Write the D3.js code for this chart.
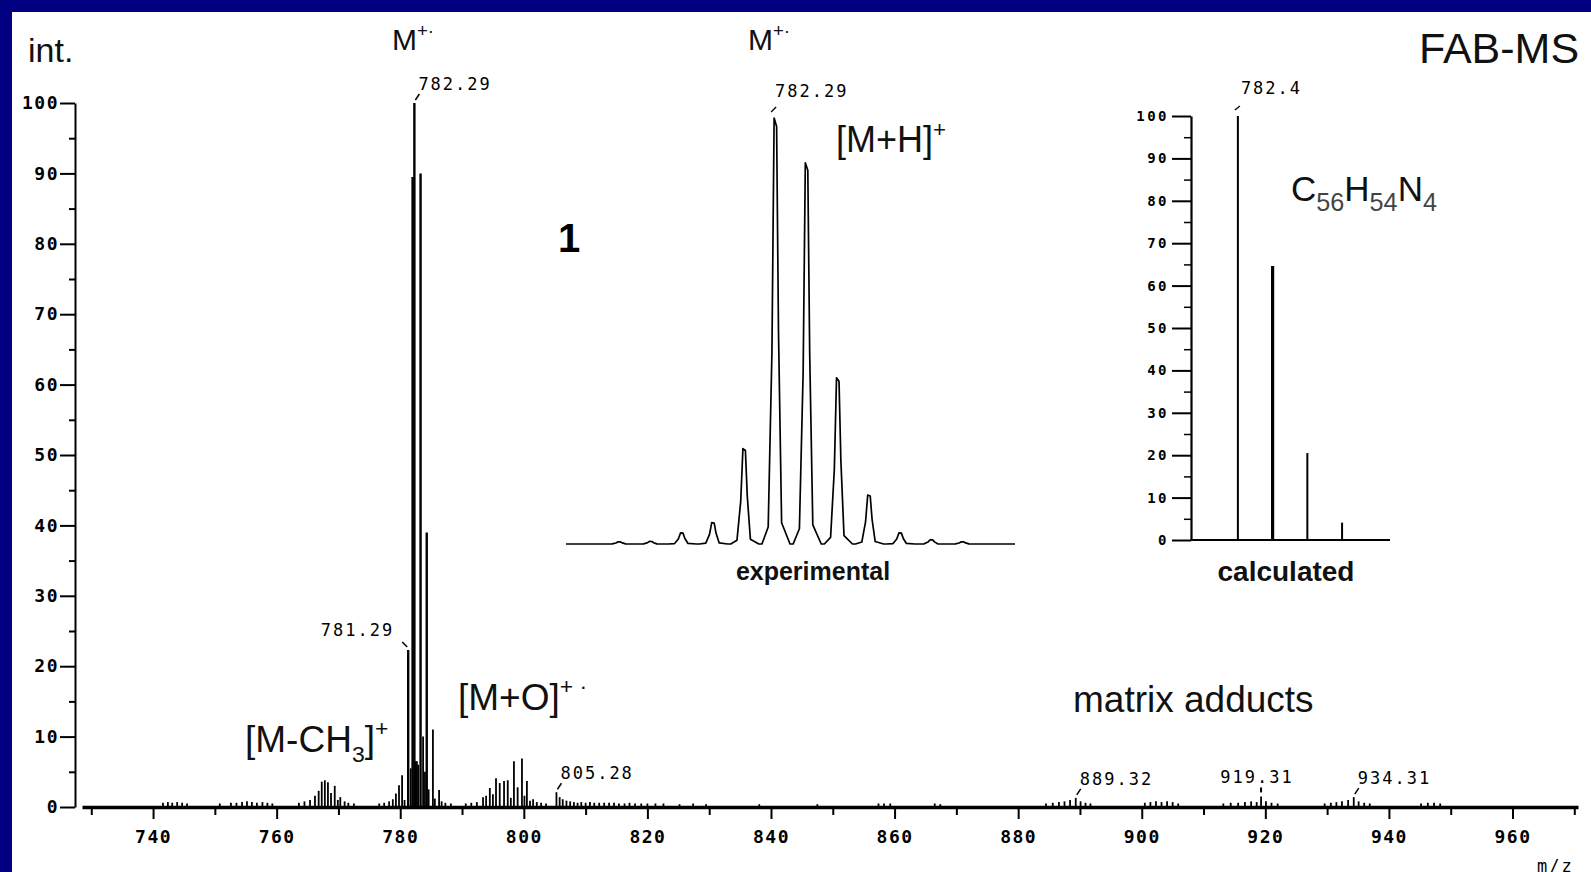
<!DOCTYPE html>
<html>
<head>
<meta charset="utf-8">
<script src="https://cdn.jsdelivr.net/npm/d3@7"></script>
<style>
  body { margin: 0; padding: 0; background: #000080; }
  #chart { width: 1591px; height: 872px; }
</style>
</head>
<body>
<div id="chart"></div>
<script>
// main FAB spectrum, [m/z, relative intensity]
const mainPeaks = [
  [741.6,0.6],[742.4,0.7],[743.1,0.6],[743.9,0.7],[744.7,0.6],[745.5,0.5],
  [750.8,0.5],[752.6,0.6],[753.5,0.6],[754.4,0.7],[755.2,0.8],[756.0,0.7],[756.8,0.6],[757.7,0.7],[758.5,0.6],[759.3,0.5],
  [763.6,0.6],[764.5,0.8],[765.4,1.0],[766.2,1.6],[766.8,2.3],[767.3,3.6],[767.8,3.8],[768.3,3.5],[768.8,2.0],[769.4,3.0],[769.9,1.0],[770.3,1.4],[771.0,0.8],[771.6,0.6],[772.5,0.5],
  [776.6,0.5],[777.4,0.6],[778.2,0.8],[778.8,1.1],[779.3,1.9],[779.8,3.1],[780.3,4.5],[780.7,1.0],
  [781.29,22.3],[781.7,5.5],[782.0,89.5],[782.29,100],[782.5,6.5],[782.7,6.5],[782.9,6.0],[783.29,90],[783.7,10],[784.0,5.0],[784.29,39],[784.6,2.5],[785.29,11],[785.6,1.2],[786.29,2.4],[786.7,0.8],[787.3,0.6],[788.2,0.5],
  [790.6,0.5],[791.5,0.6],[792.4,0.7],[793.4,1.4],[793.9,1.6],[794.5,2.7],[795.0,1.8],[795.5,4.1],[796.1,3.4],[796.8,3.7],[797.4,3.8],[797.9,1.3],[798.4,6.5],[799.0,2.8],[799.7,6.9],[800.1,1.6],[800.5,3.7],[801.0,0.9],[801.5,1.1],[802.1,0.7],[802.8,0.6],[803.6,0.5],
  [805.28,2.1],[805.8,1.4],[806.3,1.1],[806.9,0.9],[807.5,0.8],[808.1,0.7],[808.7,0.6],[809.3,0.7],[810.0,0.6],[810.7,0.7],[811.4,0.6],[812.2,0.6],[813.0,0.6],[813.8,0.6],[814.6,0.6],[815.4,0.5],[816.3,0.5],[817.1,0.6],[818.0,0.5],[819.0,0.5],[820.0,0.5],[821.3,0.5],[822.6,0.5],[825.2,0.4],[827.4,0.5],[829.5,0.4],
  [838.1,0.4],[847.5,0.4],[857.4,0.5],[858.3,0.5],[859.3,0.5],[866.5,0.5],[867.4,0.4],
  [884.5,0.5],[885.6,0.6],[886.6,0.7],[887.5,0.8],[888.4,1.0],[889.32,1.3],[890.1,0.8],[890.9,0.6],[891.7,0.5],
  [900.5,0.6],[901.4,0.7],[902.3,0.8],[903.2,0.7],[904.1,0.8],[905.0,0.7],[905.9,0.5],
  [913.2,0.5],[914.4,0.6],[915.6,0.6],[916.7,0.7],[917.7,0.8],[918.6,0.7],[919.31,1.5],[920.1,0.8],[921.0,0.6],[922.0,0.5],
  [929.6,0.5],[930.6,0.6],[931.5,0.7],[932.4,0.8],[933.4,1.0],[934.31,1.4],[935.1,0.8],[936.0,0.6],[936.9,0.5],
  [945.2,0.5],[946.3,0.6],[947.3,0.6],[948.3,0.5]
];
const mainXMajor = [740, 760, 780, 800, 820, 840, 860, 880, 900, 920, 940, 960];
const mainXMinor = [730, 750, 770, 790, 810, 830, 850, 870, 890, 910, 930, 950, 970];
const yMajor = [0, 10, 20, 30, 40, 50, 60, 70, 80, 90, 100];
const yMinor = [5, 15, 25, 35, 45, 55, 65, 75, 85, 95];

// labelled peaks in the main spectrum
const mainLabels = [
  { mz: 782.29, text: "782.29", side: "right" },
  { mz: 781.29, text: "781.29", side: "left" },
  { mz: 805.28, text: "805.28", side: "right" },
  { mz: 889.32, text: "889.32", side: "right" },
  { mz: 919.31, text: "919.31", side: "mid" },
  { mz: 934.31, text: "934.31", side: "right" }
];

// experimental isotope pattern (inset), [m/z, %]
const expPeaks = [[777,0.5],[778,0.6],[779,2.6],[780,5],[781,22.4],[782,100],[783,89.5],[784,39],[785,11.5],[786,2.6],[787,1],[788,0.5]];
// calculated isotope pattern C56H54N4, [m/z, %]
const calcPeaks = [[782.4,100],[783.4,64.6],[784.4,20.5],[785.4,4.1]];

const W = 1591, H = 872;
const mono = "DejaVu Sans Mono", sans = "Liberation Sans, Arial, sans-serif";

const svg = d3.select("#chart").append("svg")
    .attr("width", W)
    .attr("height", H);

svg.append("rect").attr("width", W).attr("height", H).attr("fill", "#000080");
svg.append("rect").attr("x", 12).attr("y", 12).attr("width", W - 12).attr("height", H - 12).attr("fill", "#fff");

// ---- main spectrum ----
const xMain = d3.scaleLinear().domain([728.5, 970.6]).range([82, 1578]);
const yMain = d3.scaleLinear().domain([0, 100]).range([807, 103]);

// y axis
const yAx = svg.append("g")
    .attr("transform", "translate(75,0)")
    .call(d3.axisLeft(yMain).tickValues(yMajor).tickSize(15).tickSizeOuter(0).tickPadding(1));
yAx.select(".domain").attr("stroke-width", 2);
yAx.selectAll(".tick line").attr("stroke-width", 2);
yAx.selectAll(".tick text")
    .attr("font-family", mono).attr("font-weight", "bold")
    .attr("font-size", 18).attr("letter-spacing", 1.5);

svg.append("g")
    .attr("transform", "translate(75,0)")
    .call(d3.axisLeft(yMain).tickValues(yMinor).tickSize(6).tickFormat(""))
    .call(g => g.select(".domain").remove())
    .selectAll(".tick line").attr("stroke-width", 2);

// x axis
const xAx = svg.append("g")
    .attr("transform", `translate(0,${yMain(0)})`)
    .call(d3.axisBottom(xMain).tickValues(mainXMajor).tickSize(12).tickSizeOuter(0).tickPadding(11));
xAx.select(".domain").attr("stroke-width", 3.5);
xAx.selectAll(".tick line").attr("stroke-width", 2);
xAx.selectAll(".tick text")
    .attr("font-family", mono).attr("font-weight", "bold")
    .attr("font-size", 18).attr("letter-spacing", 1.5);

svg.append("g")
    .attr("transform", `translate(0,${yMain(0)})`)
    .call(d3.axisBottom(xMain).tickValues(mainXMinor).tickSize(8).tickFormat(""))
    .call(g => g.select(".domain").remove())
    .selectAll(".tick line").attr("stroke-width", 2);

// sticks
svg.append("g").selectAll("line")
    .data(mainPeaks)
    .join("line")
    .attr("x1", d => xMain(d[0]))
    .attr("x2", d => xMain(d[0]))
    .attr("y1", yMain(0))
    .attr("y2", d => yMain(d[1]))
    .attr("stroke", "#000")
    .attr("stroke-width", d => d[1] > 20 ? 2.4 : 1.8);

// peak labels with little marker strokes
const labelFont = t => t.attr("font-family", mono).attr("font-size", 17).attr("letter-spacing", 2);
const intensityOf = mz => mainPeaks.find(p => p[0] === mz)[1];
mainLabels.forEach(l => {
    const px = xMain(l.mz), py = yMain(intensityOf(l.mz));
    const lab = svg.append("text").call(labelFont).text(l.text);
    if (l.side === "right") {
        svg.append("line").attr("x1", px + 1).attr("y1", py - 3).attr("x2", px + 5).attr("y2", py - 9)
            .attr("stroke", "#000").attr("stroke-width", 1.5);
        lab.attr("x", px + 4).attr("y", py - 13);
    } else if (l.side === "left") {
        svg.append("line").attr("x1", px - 6).attr("y1", py - 8).attr("x2", px - 1).attr("y2", py - 3)
            .attr("stroke", "#000").attr("stroke-width", 1.5);
        lab.attr("x", px - 14).attr("y", py - 14).attr("text-anchor", "end");
    } else {
        svg.append("line").attr("x1", px).attr("y1", py - 4).attr("x2", px).attr("y2", py - 9)
            .attr("stroke", "#000").attr("stroke-width", 2);
        lab.attr("x", px - 4).attr("y", py - 13).attr("text-anchor", "middle");
    }
});

// text with sub/superscripts
function rich(x, y, size, parts, subScale) {
    const t = svg.append("text").attr("x", x).attr("y", y)
        .attr("font-family", sans).attr("font-size", size).attr("fill", "#111");
    let shift = 0;
    parts.forEach(([s, k]) => {
        const dy = k === "sub" ? size * 0.28 : k === "sup" ? -size * 0.42 : 0;
        t.append("tspan")
            .attr("dy", dy - shift)
            .attr("font-size", k ? size * (subScale || 0.62) : size)
            .attr("fill", k === "sub" && subScale ? "#444" : null)
            .text(s);
        shift = dy;
    });
    return t;
}

rich(28, 62, 34, [["int."]]);
rich(392, 50, 30, [["M"], ["+·", "sup"]]);
rich(245, 752, 37, [["[M-CH"], ["3", "sub"], ["]"], ["+", "sup"]]);
rich(458, 710, 37, [["[M+O]"], ["+ ·", "sup"]]);
rich(1073, 712, 37, [["matrix adducts"]]);
rich(1419, 63, 43, [["FAB-MS"]]);
svg.append("text").attr("x", 1537).attr("y", 872)
    .attr("font-family", mono).attr("font-size", 17).attr("letter-spacing", 2)
    .text("m/z");
svg.append("text").attr("x", 558).attr("y", 252)
    .attr("font-family", sans).attr("font-weight", "bold").attr("font-size", 40)
    .text("1");

// ---- experimental inset ----
const xExp = d3.scaleLinear().domain([775.27, 789.66]).range([566, 1015]);
const yExp = d3.scaleLinear().domain([0, 100]).range([544, 118]);

// each isotope peak drawn as a narrow spike on the baseline
const spike = [[-0.45, 0], [-0.25, 0.04], [-0.13, 0.45], [-0.06, 1], [0.02, 0.98], [0.08, 0.5], [0.18, 0.05], [0.45, 0]];
const expPts = [[775.27, 0]];
expPeaks.forEach(([m, h]) => spike.forEach(([dm, f]) => expPts.push([m + dm, h * f])));
expPts.push([789.66, 0]);

svg.append("path")
    .datum(expPts)
    .attr("d", d3.line().x(d => xExp(d[0])).y(d => yExp(d[1])))
    .attr("fill", "none")
    .attr("stroke", "#000")
    .attr("stroke-width", 1.7)
    .attr("stroke-linejoin", "round");

const expTop = expPeaks.find(p => p[1] === 100);
const ex = xExp(expTop[0] - 0.06);
svg.append("line")
    .attr("x1", ex - 3).attr("y1", yExp(100) - 6)
    .attr("x2", ex + 2).attr("y2", yExp(100) - 11)
    .attr("stroke", "#000").attr("stroke-width", 1.3);
svg.append("text").attr("x", ex + 1).attr("y", yExp(100) - 21).call(labelFont)
    .text("782.29");
rich(748, 50, 30, [["M"], ["+·", "sup"]]);
rich(836, 152, 36, [["[M+H]"], ["+", "sup"]]);
svg.append("text").attr("x", 813).attr("y", 580).attr("text-anchor", "middle")
    .attr("font-family", sans).attr("font-weight", "bold").attr("font-size", 25).attr("fill", "#111")
    .text("experimental");

// ---- calculated inset ----
const xCalc = d3.scaleLinear().domain([781.05, 786.78]).range([1191, 1390]);
const yCalc = d3.scaleLinear().domain([0, 100]).range([540, 116]);

const cAx = svg.append("g")
    .attr("transform", "translate(1191,0)")
    .call(d3.axisLeft(yCalc).tickValues(yMajor).tickSize(19).tickSizeOuter(0).tickPadding(3));
cAx.select(".domain").attr("stroke-width", 2.2);
cAx.selectAll(".tick line").attr("stroke-width", 2);
cAx.selectAll(".tick text")
    .attr("font-family", mono).attr("font-weight", "bold")
    .attr("font-size", 14).attr("letter-spacing", 2.5);

svg.append("g")
    .attr("transform", "translate(1191,0)")
    .call(d3.axisLeft(yCalc).tickValues(yMinor).tickSize(7).tickFormat(""))
    .call(g => g.select(".domain").remove())
    .selectAll(".tick line").attr("stroke-width", 1.5);

svg.append("line")
    .attr("x1", xCalc.range()[0]).attr("x2", xCalc.range()[1])
    .attr("y1", yCalc(0)).attr("y2", yCalc(0))
    .attr("stroke", "#000").attr("stroke-width", 2.2);

svg.append("g").selectAll("line")
    .data(calcPeaks)
    .join("line")
    .attr("x1", d => xCalc(d[0]))
    .attr("x2", d => xCalc(d[0]))
    .attr("y1", yCalc(0))
    .attr("y2", d => yCalc(d[1]))
    .attr("stroke", "#000")
    .attr("stroke-width", (d, i) => i === 1 ? 3.2 : 2);

svg.append("line")
    .attr("x1", xCalc(782.4) - 3).attr("y1", yCalc(100) - 6)
    .attr("x2", xCalc(782.4) + 2).attr("y2", yCalc(100) - 10)
    .attr("stroke", "#000").attr("stroke-width", 1.3);
svg.append("text").attr("x", xCalc(782.4) + 3).attr("y", yCalc(100) - 22).call(labelFont)
    .text("782.4");
rich(1291, 201, 35, [["C"], ["56", "sub"], ["H"], ["54", "sub"], ["N"], ["4", "sub"]], 0.72);
svg.append("text").attr("x", 1286).attr("y", 581).attr("text-anchor", "middle")
    .attr("font-family", sans).attr("font-weight", "bold").attr("font-size", 28).attr("fill", "#111")
    .text("calculated");
</script>
</body>
</html>
